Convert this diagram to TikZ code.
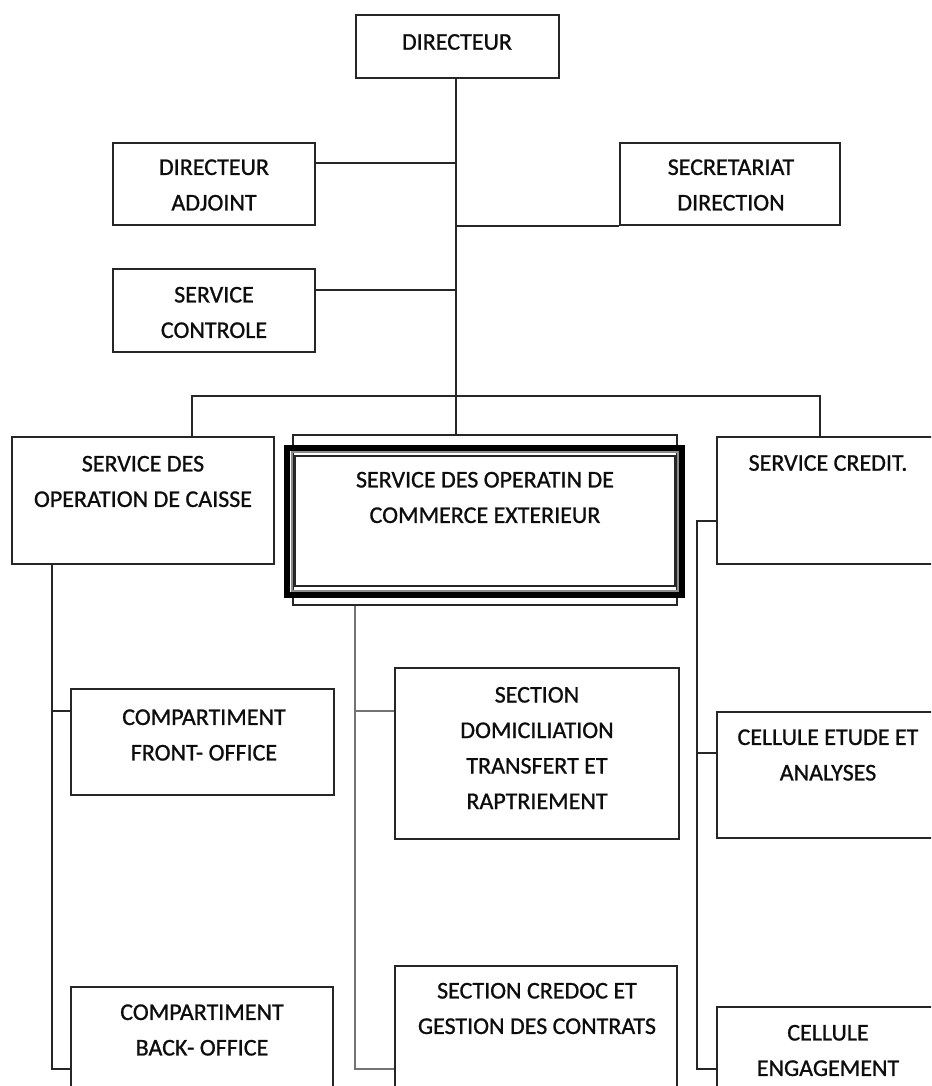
\documentclass[tikz,border=0pt]{standalone}
\usepackage{fontspec}
\setmainfont{Carlito}
\newfontfamily\orgfont[FakeBold=0.9]{Carlito}
\usetikzlibrary{calc}
\begin{document}
\begin{tikzpicture}[x=1pt,y=-1pt,
  box/.style={draw=black!85, line width=1.8pt, fill=white, inner sep=0pt},
  lbl/.style={font=\orgfont\fontsize{24}{35.5}\selectfont, align=center, text=black!95, inner sep=0pt},
  link/.style={draw=black!85, line width=1.8pt},
  glink/.style={draw=black!55, line width=2.6pt}]
\useasboundingbox (0,0) rectangle (931,1086);
\clip (0,0) rectangle (931,1086);

% boxes
\node[box, minimum width=203, minimum height=63]  (dir) at (457.5,46.5) {};
\node[box, minimum width=202, minimum height=82]  (adj) at (214,184) {};
\node[box, minimum width=220, minimum height=82]  (sec) at (730,184) {};
\node[box, minimum width=202, minimum height=83]  (ctl) at (214,310.5) {};
\node[box, minimum width=262, minimum height=127] (cai) at (143,500.5) {};
\node[box, minimum width=384, minimum height=170] (com) at (485,520) {};
\node[box, minimum width=222, minimum height=127] (cre) at (828,500.5) {};
\node[box, minimum width=263, minimum height=106] (fro) at (202.5,742) {};
\node[box, minimum width=284, minimum height=171] (dom) at (537,753.5) {};
\node[box, minimum width=222, minimum height=126] (etu) at (828,775) {};
\node[box, minimum width=262, minimum height=123] (bck) at (202,1048.5) {};
\node[box, minimum width=282, minimum height=144] (crd) at (536,1038) {};
\node[box, minimum width=222, minimum height=103] (eng) at (828,1058.5) {};

% thick-thin frame of the foreign trade service
\draw[black, line width=6pt] ($(com.north west)+(-5,14)$) rectangle ($(com.south east)+(4,-11)$);
\draw[black!45, line width=2pt] ($(com.north west)+(-0.5,18)$) rectangle ($(com.south east)+(0,-15)$);
\draw[black!85, line width=1.8pt] ($(com.north west)+(3,22)$) rectangle ($(com.south east)+(-3,-20)$);

% labels
\node[lbl] (t-dir) at (457,42) {DIRECTEUR};
\node[lbl] (t-adj) at (214,185) {DIRECTEUR\\ADJOINT};
\node[lbl] (t-sec) at (731,185) {SECRETARIAT\\DIRECTION};
\node[lbl] (t-ctl) at (214,312.5) {SERVICE\\CONTROLE};
\node[lbl] (t-cai) at (143,481.5) {SERVICE DES\\OPERATION DE CAISSE};
\node[lbl] (t-com) at (485,497.5) {SERVICE DES OPERATIN DE\\COMMERCE EXTERIEUR};
\node[lbl] (t-cre) at (828,463) {SERVICE CREDIT.};
\node[lbl] (t-fro) at (204,735) {COMPARTIMENT\\FRONT- OFFICE};
\node[lbl] (t-dom) at (537,748) {SECTION\\DOMICILIATION\\TRANSFERT ET\\RAPTRIEMENT};
\node[lbl] (t-etu) at (828,755) {CELLULE ETUDE ET\\ANALYSES};
\node[lbl] (t-bck) at (202,1030) {COMPARTIMENT\\BACK- OFFICE};
\node[lbl] (t-crd) at (537,1008.5) {SECTION CREDOC ET\\GESTION DES CONTRATS};
\node[lbl] (t-eng) at (828,1050.5) {CELLULE\\ENGAGEMENT};

% main trunk and its side branches
\coordinate (tk) at (456,0);
\draw[link] (dir.south -| tk) -- (com.north -| tk);
\coordinate (jadj) at (456,163);
\draw[link] (jadj -| adj.east) -- (jadj);
\coordinate (jsec) at (sec.south west -| tk);
\draw[link] (jsec) -- (sec.south west);
\coordinate (jctl) at (456,290);
\draw[link] (jctl -| ctl.east) -- (jctl);

% bus to the three services
\coordinate (bl) at (192,396);
\coordinate (br) at (820,396);
\draw[link] (cai.north -| bl) -- (bl) -- (br) -- (cre.north -| br);

% cash service compartments
\coordinate (lf) at (52,711);
\coordinate (lb) at (52,1069);
\draw[link] (cai.south -| lf) -- (lb) -- (lb -| bck.west);
\draw[link] (lf) -- (lf -| fro.west);

% foreign trade sections
\coordinate (mf) at (355,711);
\coordinate (mb) at (355,1069);
\draw[glink] (com.south -| mf) -- (mb) -- (mb -| crd.west);
\draw[glink] (mf) -- (mf -| dom.west);

% credit cells
\coordinate (rt) at (697,521);
\coordinate (re) at (697,753);
\coordinate (rg) at (697,1069);
\draw[link] (rt -| cre.west) -- (rt) -- (rg) -- (rg -| eng.west);
\draw[link] (re) -- (re -| etu.west);
\end{tikzpicture}
\end{document}
